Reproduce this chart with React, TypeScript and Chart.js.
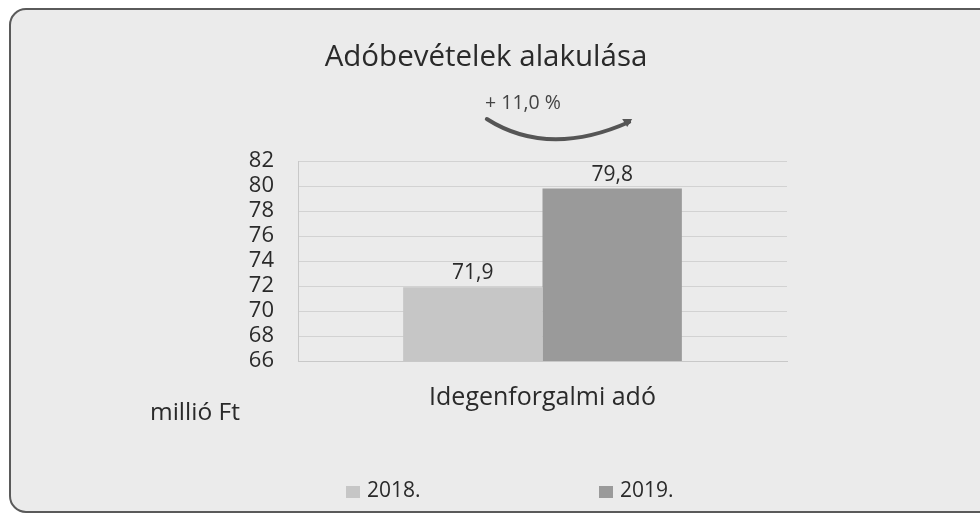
import React, { useEffect, useRef } from "react";
import { Chart, registerables } from "chart.js";

Chart.register(...registerables);

const categories = ["Idegenforgalmi adó"];
const seriesLabels = ["2018.", "2019."];
const values2018 = [71.9];
const values2019 = [79.8];
const yMin = 66;
const yMax = 82;
const yStep = 2;
const titleText = "Adóbevételek alakulása";
const unitText = "millió Ft";

const FONT = "'Open Sans', Lato, sans-serif";
const TEXT = "#2a2a2a";
const BG = "#ebebeb";
const COLORS = ["#c6c6c6", "#9a9a9a"];

const fmt = (v: number) => v.toFixed(1).replace(".", ",");

const decorPlugin = {
  id: "decor",
  beforeDraw(chart: any) {
    const { ctx, width, height } = chart;
    ctx.save();
    ctx.fillStyle = "#ffffff";
    ctx.fillRect(0, 0, width, height);
    const x = 10, y = 9, w = 990, h = 503, r = 16;
    ctx.beginPath();
    ctx.moveTo(x + r, y);
    ctx.lineTo(x + w - r, y);
    ctx.arcTo(x + w, y, x + w, y + r, r);
    ctx.lineTo(x + w, y + h - r);
    ctx.arcTo(x + w, y + h, x + w - r, y + h, r);
    ctx.lineTo(x + r, y + h);
    ctx.arcTo(x, y + h, x, y + h - r, r);
    ctx.lineTo(x, y + r);
    ctx.arcTo(x, y, x + r, y, r);
    ctx.closePath();
    ctx.fillStyle = BG;
    ctx.fill();
    ctx.lineWidth = 2;
    ctx.strokeStyle = "#5a5a5a";
    ctx.stroke();
    ctx.restore();
  },
  afterDatasetsDraw(chart: any) {
    const { ctx } = chart;
    ctx.save();
    ctx.fillStyle = TEXT;
    ctx.font = `21px ${FONT}`;
    ctx.textAlign = "center";
    ctx.textBaseline = "alphabetic";
    chart.data.datasets.forEach((ds: any, i: number) => {
      const meta = chart.getDatasetMeta(i);
      meta.data.forEach((bar: any, j: number) => {
        ctx.fillText(fmt(ds.data[j]), bar.x, bar.y - 8);
      });
    });
    ctx.restore();
  },
  afterDraw(chart: any) {
    const { ctx } = chart;
    ctx.save();
    // title
    ctx.fillStyle = TEXT;
    ctx.font = `29.5px ${FONT}`;
    ctx.textAlign = "center";
    ctx.textBaseline = "middle";
    ctx.fillText(titleText, 486, 58);

    // unit label
    ctx.font = `24.5px ${FONT}`;
    ctx.textAlign = "left";
    ctx.fillText(unitText, 150, 413);

    // change annotation
    const b1 = chart.getDatasetMeta(0).data[0];
    const b2 = chart.getDatasetMeta(1).data[0];
    const v1 = chart.data.datasets[0].data[0];
    const v2 = chart.data.datasets[1].data[0];
    const pct = (v2 / v1 - 1) * 100;
    const x1 = b1.x + 14;
    const x2 = b2.x + 17;
    ctx.font = `19.5px ${FONT}`;
    ctx.textAlign = "center";
    ctx.fillStyle = "#444444";
    ctx.fillText(`+ ${fmt(pct)} %`, (x1 + x2) / 2 - 35, 103);

    ctx.strokeStyle = "#555555";
    ctx.lineWidth = 4;
    ctx.lineCap = "round";
    const cx = (x1 + x2) / 2 - 10;
    ctx.beginPath();
    ctx.moveTo(x1, 119);
    ctx.quadraticCurveTo(cx, 158, x2, 122);
    ctx.stroke();
    // arrow head
    ctx.fillStyle = "#555555";
    ctx.beginPath();
    ctx.moveTo(x2 + 3, 119);
    ctx.lineTo(x2 - 7, 119);
    ctx.lineTo(x2 - 2, 127);
    ctx.closePath();
    ctx.fill();

    // legend
    ctx.font = `21px ${FONT}`;
    ctx.textAlign = "left";
    ctx.textBaseline = "middle";
    const legendX = [346, 599];
    seriesLabels.forEach((lab, i) => {
      ctx.fillStyle = COLORS[i];
      ctx.fillRect(legendX[i], 486, 14, 12);
      ctx.fillStyle = TEXT;
      ctx.fillText(lab, legendX[i] + 21, 491);
    });
    ctx.restore();
  },
};

export default function App() {
  const ref = useRef<HTMLCanvasElement | null>(null);
  useEffect(() => {
    if (!ref.current) return;
    const chart = new Chart(ref.current, {
      type: "bar",
      data: {
        labels: categories,
        datasets: [
          { label: seriesLabels[0], data: values2018, backgroundColor: COLORS[0] },
          { label: seriesLabels[1], data: values2019, backgroundColor: COLORS[1] },
        ],
      },
      options: {
        responsive: false,
        animation: false,
        layout: { padding: { left: 0, right: 193, top: 161, bottom: 97 } },
        datasets: { bar: { barPercentage: 1, categoryPercentage: 0.57 } },
        plugins: {
          legend: { display: false },
          title: { display: false },
          tooltip: { enabled: false },
        },
        scales: {
          x: {
            grid: { display: false },
            border: { display: true, color: "#c8c8c8" },
            ticks: { color: TEXT, font: { family: FONT, size: 25 }, padding: 14 },
            afterFit: (s: any) => { s.height = 60; },
          },
          y: {
            min: yMin,
            max: yMax,
            grid: { color: "#d2d2d2", drawTicks: false },
            border: { display: true, color: "#c8c8c8" },
            ticks: {
              stepSize: yStep,
              autoSkip: false,
              color: TEXT,
              font: { family: FONT, size: 22 },
              padding: 24,
            },
            afterFit: (s: any) => { s.width = 298; },
          },
        },
      },
      plugins: [decorPlugin],
    });
    return () => chart.destroy();
  }, []);
  return (
    <div style={{ position: "fixed", left: 0, top: 0, width: 980, height: 518 }}>
      <canvas ref={ref} width={980} height={518} style={{ width: 980, height: 518 }} />
    </div>
  );
}
